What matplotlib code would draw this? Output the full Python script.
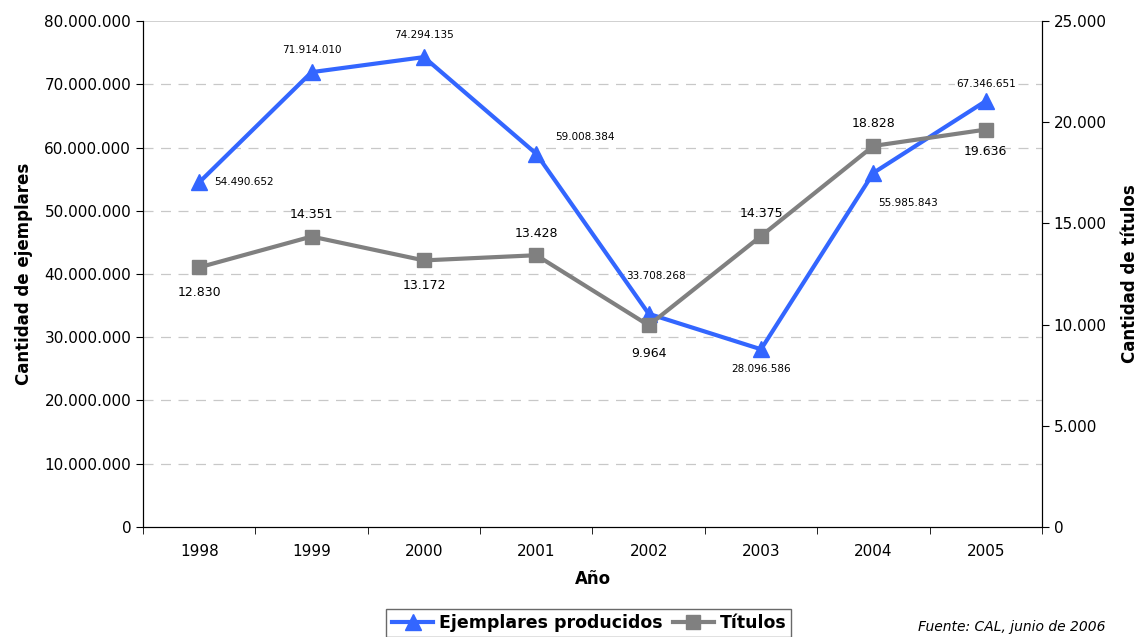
import matplotlib.pyplot as plt
from matplotlib.ticker import FuncFormatter

anios = ['1998', '1999', '2000', '2001', '2002', '2003', '2004', '2005']
ejemplares = [54490652, 71914010, 74294135, 59008384, 33708268, 28096586, 55985843, 67346651]
titulos = [12830, 14351, 13172, 13428, 9964, 14375, 18828, 19636]

# desplazamientos de etiquetas (puntos)
off_ej = [(32, 0), (0, 16), (0, 16), (35, 12), (5, 27), (0, -14), (25, -22), (0, 12)]
off_ti = [(0, -18), (0, 16), (0, -18), (0, 16), (0, -20), (0, 16), (0, 16), (0, -16)]

def miles(v, pos=None):
    return f'{int(round(v)):,}'.replace(',', '.')

plt.rcParams['font.family'] = 'DejaVu Sans'
fig = plt.figure(figsize=(11.37, 6.37), dpi=100)
ax = fig.add_axes([0.1258, 0.1727, 0.7906, 0.7943])
ax2 = ax.twinx()

x = list(range(len(anios)))
azul = '#3366ff'
gris = '#808080'

l1, = ax.plot(x, ejemplares, color=azul, lw=3, marker='^', ms=11, label='Ejemplares producidos', zorder=3)
l2, = ax2.plot(x, titulos, color=gris, lw=3, marker='s', ms=9.5, label='Títulos', zorder=3)

ax.set_ylim(0, 80000000)
ax2.set_ylim(0, 25000)
ax.set_xlim(-0.5, 7.5)
ax.set_yticks(range(0, 80000001, 10000000))
ax2.set_yticks(range(0, 25001, 5000))
ax.yaxis.set_major_formatter(FuncFormatter(miles))
ax2.yaxis.set_major_formatter(FuncFormatter(miles))

ax.set_xticks(x)
ax.set_xticklabels(anios)
ax.set_xticks([i + 0.5 for i in range(-1, 8)], minor=True)
ax.tick_params(axis='x', which='major', length=0, pad=12, labelsize=11)
ax.tick_params(axis='x', which='minor', length=5)
ax.tick_params(axis='y', labelsize=11, length=5)
ax2.tick_params(axis='y', labelsize=11, length=5)

for g in range(10000000, 80000000, 10000000):
    ax.axhline(g, color='#c8c8c8', lw=0.9, ls=(0, (8, 6)), zorder=0)
ax.axhline(80000000, color='#c8c8c8', lw=1.2, zorder=0)

for s in ['top']:
    ax.spines[s].set_visible(False)
    ax2.spines[s].set_visible(False)

ax.set_xlabel('Año', fontsize=12, fontweight='bold', labelpad=8)
ax.set_ylabel('Cantidad de ejemplares', fontsize=12, fontweight='bold', labelpad=8)
ax2.set_ylabel('Cantidad de títulos', fontsize=12, fontweight='bold', labelpad=10)

# fondo blanco solo tapa la rejilla; las líneas quedan por encima
fondo = dict(boxstyle='square,pad=0.1', fc='white', ec='none')
for i, v in enumerate(ejemplares):
    ax.annotate(miles(v), (x[i], v), xytext=off_ej[i], textcoords='offset points',
                ha='center', va='center', fontsize=7.5, zorder=2, bbox=fondo)
for i, v in enumerate(titulos):
    ax2.annotate(miles(v), (x[i], v), xytext=off_ti[i], textcoords='offset points',
                 ha='center', va='center', fontsize=9, zorder=4)

leg = fig.legend(handles=[l1, l2], loc='lower center', bbox_to_anchor=(0.518, -0.014),
                 ncol=2, prop={'weight': 'bold', 'size': 12.5},
                 frameon=True, fancybox=False, edgecolor='#444444',
                 handlelength=2.4, handletextpad=0.3, columnspacing=0.6, borderpad=0.3)

fig.text(0.972, 0.005, 'Fuente: CAL, junio de 2006', ha='right', va='bottom',
         fontsize=10, style='italic')

fig.savefig('out.png', dpi=100)
